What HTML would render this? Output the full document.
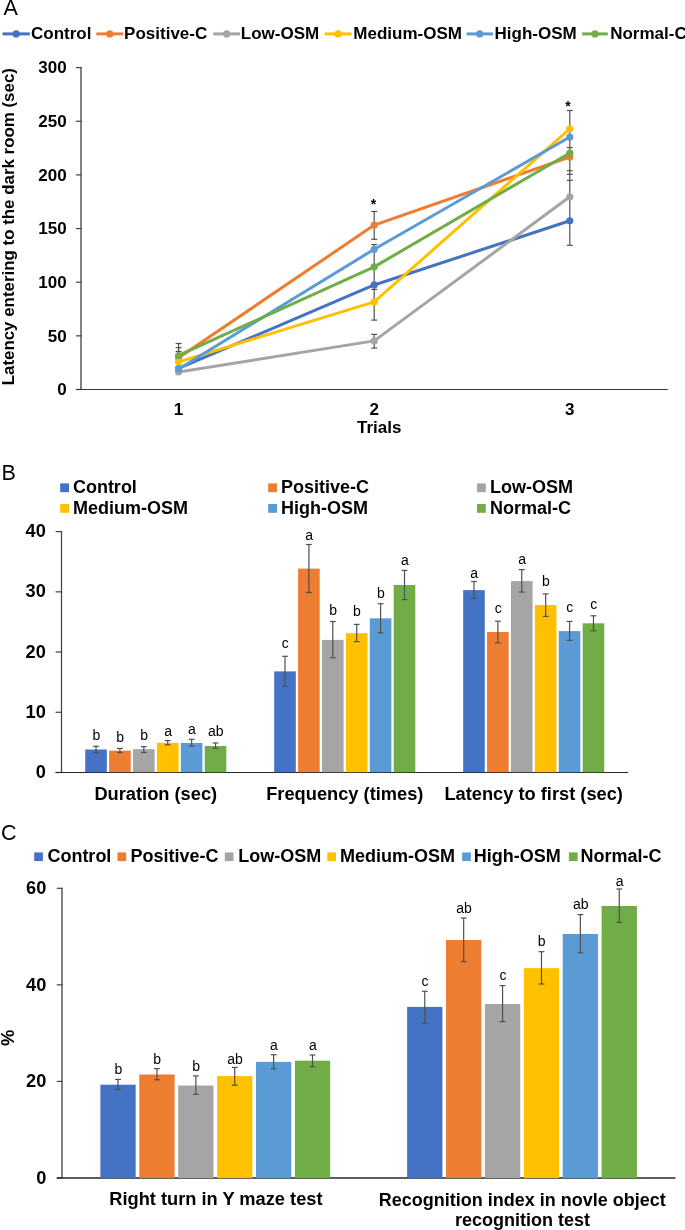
<!DOCTYPE html>
<html><head><meta charset="utf-8"><title>Figure</title>
<style>
html,body{margin:0;padding:0;background:#fff;}
body{width:685px;height:1230px;overflow:hidden;}
svg{display:block;font-family:"Liberation Sans", sans-serif;will-change:transform;}
</style></head><body>
<svg width="685" height="1230" viewBox="0 0 685 1230">
<rect x="0" y="0" width="685" height="1230" fill="#fff"/>
<text x="3.60" y="14.60" font-size="21.5" font-weight="normal" text-anchor="start" >A</text>
<line x1="2.50" y1="33.90" x2="29.80" y2="33.90" stroke="#4472C4" stroke-width="3.0"/>
<circle cx="16.15" cy="33.9" r="3.6" fill="#4472C4"/>
<text x="31.00" y="38.70" font-size="17" font-weight="bold" text-anchor="start" >Control</text>
<line x1="96.30" y1="33.90" x2="123.30" y2="33.90" stroke="#ED7D31" stroke-width="3.0"/>
<circle cx="109.80" cy="33.9" r="3.6" fill="#ED7D31"/>
<text x="124.10" y="38.70" font-size="17" font-weight="bold" text-anchor="start" >Positive-C</text>
<line x1="213.30" y1="33.90" x2="240.00" y2="33.90" stroke="#A5A5A5" stroke-width="3.0"/>
<circle cx="226.65" cy="33.9" r="3.6" fill="#A5A5A5"/>
<text x="240.80" y="38.70" font-size="17" font-weight="bold" text-anchor="start" >Low-OSM</text>
<line x1="324.70" y1="33.90" x2="351.50" y2="33.90" stroke="#FFC000" stroke-width="3.0"/>
<circle cx="338.10" cy="33.9" r="3.6" fill="#FFC000"/>
<text x="353.30" y="38.70" font-size="17" font-weight="bold" text-anchor="start" >Medium-OSM</text>
<line x1="466.60" y1="33.90" x2="492.90" y2="33.90" stroke="#5B9BD5" stroke-width="3.0"/>
<circle cx="479.75" cy="33.9" r="3.6" fill="#5B9BD5"/>
<text x="494.60" y="38.70" font-size="17" font-weight="bold" text-anchor="start" >High-OSM</text>
<line x1="582.20" y1="33.90" x2="607.80" y2="33.90" stroke="#70AD47" stroke-width="3.0"/>
<circle cx="595.00" cy="33.9" r="3.6" fill="#70AD47"/>
<text x="610.20" y="38.70" font-size="17" font-weight="bold" text-anchor="start" >Normal-C</text>
<line x1="81.00" y1="67.00" x2="81.00" y2="389.50" stroke="#404040" stroke-width="1.3"/>
<line x1="76.00" y1="389.50" x2="81.60" y2="389.50" stroke="#404040" stroke-width="1.2"/>
<text x="66.70" y="395.30" font-size="17" font-weight="bold" text-anchor="end" >0</text>
<line x1="76.00" y1="335.85" x2="81.60" y2="335.85" stroke="#404040" stroke-width="1.2"/>
<text x="66.70" y="341.63" font-size="17" font-weight="bold" text-anchor="end" >50</text>
<line x1="76.00" y1="282.20" x2="81.60" y2="282.20" stroke="#404040" stroke-width="1.2"/>
<text x="66.70" y="287.97" font-size="17" font-weight="bold" text-anchor="end" >100</text>
<line x1="76.00" y1="228.55" x2="81.60" y2="228.55" stroke="#404040" stroke-width="1.2"/>
<text x="66.70" y="234.30" font-size="17" font-weight="bold" text-anchor="end" >150</text>
<line x1="76.00" y1="174.90" x2="81.60" y2="174.90" stroke="#404040" stroke-width="1.2"/>
<text x="66.70" y="180.63" font-size="17" font-weight="bold" text-anchor="end" >200</text>
<line x1="76.00" y1="121.25" x2="81.60" y2="121.25" stroke="#404040" stroke-width="1.2"/>
<text x="66.70" y="126.97" font-size="17" font-weight="bold" text-anchor="end" >250</text>
<line x1="76.00" y1="67.60" x2="81.60" y2="67.60" stroke="#404040" stroke-width="1.2"/>
<text x="66.70" y="73.30" font-size="17" font-weight="bold" text-anchor="end" >300</text>
<line x1="76.00" y1="389.50" x2="667.70" y2="389.50" stroke="#333333" stroke-width="1.2"/>
<text x="178.60" y="414.50" font-size="17" font-weight="bold" text-anchor="middle" >1</text>
<text x="374.20" y="414.50" font-size="17" font-weight="bold" text-anchor="middle" >2</text>
<text x="569.80" y="414.50" font-size="17" font-weight="bold" text-anchor="middle" >3</text>
<text x="379.20" y="432.60" font-size="17" font-weight="bold" text-anchor="middle" >Trials</text>
<text x="0.00" y="0.00" font-size="16.9" font-weight="bold" text-anchor="middle" transform="translate(14.1,226.7) rotate(-90)">Latency entering to the dark room (sec)</text>
<line x1="178.60" y1="343.50" x2="178.60" y2="356.00" stroke="#505050" stroke-width="1.2"/>
<line x1="175.65" y1="343.50" x2="181.55" y2="343.50" stroke="#505050" stroke-width="1.2"/>
<line x1="175.65" y1="347.70" x2="181.55" y2="347.70" stroke="#505050" stroke-width="1.2"/>
<line x1="175.65" y1="351.40" x2="181.55" y2="351.40" stroke="#505050" stroke-width="1.2"/>
<line x1="374.20" y1="211.50" x2="374.20" y2="239.30" stroke="#505050" stroke-width="1.2"/>
<line x1="374.20" y1="244.50" x2="374.20" y2="320.10" stroke="#505050" stroke-width="1.2"/>
<line x1="374.20" y1="334.40" x2="374.20" y2="348.10" stroke="#505050" stroke-width="1.2"/>
<line x1="371.25" y1="211.50" x2="377.15" y2="211.50" stroke="#505050" stroke-width="1.2"/>
<line x1="371.25" y1="239.30" x2="377.15" y2="239.30" stroke="#505050" stroke-width="1.2"/>
<line x1="371.25" y1="244.50" x2="377.15" y2="244.50" stroke="#505050" stroke-width="1.2"/>
<line x1="371.25" y1="289.40" x2="377.15" y2="289.40" stroke="#505050" stroke-width="1.2"/>
<line x1="371.25" y1="320.10" x2="377.15" y2="320.10" stroke="#505050" stroke-width="1.2"/>
<line x1="371.25" y1="334.40" x2="377.15" y2="334.40" stroke="#505050" stroke-width="1.2"/>
<line x1="371.25" y1="348.10" x2="377.15" y2="348.10" stroke="#505050" stroke-width="1.2"/>
<line x1="569.80" y1="110.50" x2="569.80" y2="245.30" stroke="#505050" stroke-width="1.2"/>
<line x1="566.85" y1="110.50" x2="572.75" y2="110.50" stroke="#505050" stroke-width="1.2"/>
<line x1="566.85" y1="147.60" x2="572.75" y2="147.60" stroke="#505050" stroke-width="1.2"/>
<line x1="566.85" y1="170.70" x2="572.75" y2="170.70" stroke="#505050" stroke-width="1.2"/>
<line x1="566.85" y1="174.30" x2="572.75" y2="174.30" stroke="#505050" stroke-width="1.2"/>
<line x1="566.85" y1="180.30" x2="572.75" y2="180.30" stroke="#505050" stroke-width="1.2"/>
<line x1="566.85" y1="245.30" x2="572.75" y2="245.30" stroke="#505050" stroke-width="1.2"/>
<polyline points="178.60,368.48 374.20,284.97 569.80,220.79" fill="none" stroke="#4472C4" stroke-width="3.0" stroke-linejoin="round"/>
<circle cx="178.60" cy="368.48" r="3.6" fill="#4472C4"/>
<circle cx="374.20" cy="284.97" r="3.6" fill="#4472C4"/>
<circle cx="569.80" cy="220.79" r="3.6" fill="#4472C4"/>
<polyline points="178.60,357.85 374.20,225.08 569.80,157.03" fill="none" stroke="#ED7D31" stroke-width="3.0" stroke-linejoin="round"/>
<circle cx="178.60" cy="357.85" r="3.6" fill="#ED7D31"/>
<circle cx="374.20" cy="225.08" r="3.6" fill="#ED7D31"/>
<circle cx="569.80" cy="157.03" r="3.6" fill="#ED7D31"/>
<polyline points="178.60,372.02 374.20,340.89 569.80,196.74" fill="none" stroke="#A5A5A5" stroke-width="3.0" stroke-linejoin="round"/>
<circle cx="178.60" cy="372.02" r="3.6" fill="#A5A5A5"/>
<circle cx="374.20" cy="340.89" r="3.6" fill="#A5A5A5"/>
<circle cx="569.80" cy="196.74" r="3.6" fill="#A5A5A5"/>
<polyline points="178.60,361.93 374.20,301.93 569.80,128.80" fill="none" stroke="#FFC000" stroke-width="3.0" stroke-linejoin="round"/>
<circle cx="178.60" cy="361.93" r="3.6" fill="#FFC000"/>
<circle cx="374.20" cy="301.93" r="3.6" fill="#FFC000"/>
<circle cx="569.80" cy="128.80" r="3.6" fill="#FFC000"/>
<polyline points="178.60,369.01 374.20,249.23 569.80,137.07" fill="none" stroke="#5B9BD5" stroke-width="3.0" stroke-linejoin="round"/>
<circle cx="178.60" cy="369.01" r="3.6" fill="#5B9BD5"/>
<circle cx="374.20" cy="249.23" r="3.6" fill="#5B9BD5"/>
<circle cx="569.80" cy="137.07" r="3.6" fill="#5B9BD5"/>
<polyline points="178.60,355.49 374.20,266.83 569.80,153.06" fill="none" stroke="#70AD47" stroke-width="3.0" stroke-linejoin="round"/>
<circle cx="178.60" cy="355.49" r="3.6" fill="#70AD47"/>
<circle cx="374.20" cy="266.83" r="3.6" fill="#70AD47"/>
<circle cx="569.80" cy="153.06" r="3.6" fill="#70AD47"/>
<text x="373.50" y="209.30" font-size="14" font-weight="bold" text-anchor="middle" >*</text>
<text x="568.10" y="111.20" font-size="14" font-weight="bold" text-anchor="middle" >*</text>
<text x="1.60" y="480.20" font-size="21.5" font-weight="normal" text-anchor="start" >B</text>
<rect x="60.20" y="483.40" width="8.80" height="8.80" fill="#4472C4"/>
<text x="72.90" y="493.10" font-size="18" font-weight="bold" text-anchor="start" >Control</text>
<rect x="268.20" y="483.40" width="8.80" height="8.80" fill="#ED7D31"/>
<text x="281.10" y="493.10" font-size="18" font-weight="bold" text-anchor="start" >Positive-C</text>
<rect x="477.00" y="483.40" width="8.80" height="8.80" fill="#A5A5A5"/>
<text x="489.90" y="493.10" font-size="18" font-weight="bold" text-anchor="start" >Low-OSM</text>
<rect x="60.20" y="504.00" width="8.80" height="8.80" fill="#FFC000"/>
<text x="72.90" y="513.70" font-size="18" font-weight="bold" text-anchor="start" >Medium-OSM</text>
<rect x="268.20" y="504.00" width="8.80" height="8.80" fill="#5B9BD5"/>
<text x="281.10" y="513.70" font-size="18" font-weight="bold" text-anchor="start" >High-OSM</text>
<rect x="477.00" y="504.00" width="8.80" height="8.80" fill="#70AD47"/>
<text x="489.90" y="513.70" font-size="18" font-weight="bold" text-anchor="start" >Normal-C</text>
<line x1="61.50" y1="531.10" x2="61.50" y2="772.50" stroke="#404040" stroke-width="1.2"/>
<line x1="55.60" y1="772.50" x2="62.10" y2="772.50" stroke="#404040" stroke-width="1.2"/>
<text x="45.80" y="778.00" font-size="18.2" font-weight="bold" text-anchor="end" >0</text>
<line x1="55.60" y1="712.27" x2="62.10" y2="712.27" stroke="#404040" stroke-width="1.2"/>
<text x="45.80" y="717.80" font-size="18.2" font-weight="bold" text-anchor="end" >10</text>
<line x1="55.60" y1="652.05" x2="62.10" y2="652.05" stroke="#404040" stroke-width="1.2"/>
<text x="45.80" y="657.60" font-size="18.2" font-weight="bold" text-anchor="end" >20</text>
<line x1="55.60" y1="591.83" x2="62.10" y2="591.83" stroke="#404040" stroke-width="1.2"/>
<text x="45.80" y="597.40" font-size="18.2" font-weight="bold" text-anchor="end" >30</text>
<line x1="55.60" y1="531.60" x2="62.10" y2="531.60" stroke="#404040" stroke-width="1.2"/>
<text x="45.80" y="537.20" font-size="18.2" font-weight="bold" text-anchor="end" >40</text>
<line x1="55.60" y1="772.50" x2="628.20" y2="772.50" stroke="#262626" stroke-width="1.2"/>
<rect x="85.23" y="749.50" width="21.60" height="22.70" fill="#4472C4"/>
<rect x="109.13" y="750.60" width="21.60" height="21.60" fill="#ED7D31"/>
<rect x="133.03" y="749.20" width="21.60" height="23.00" fill="#A5A5A5"/>
<rect x="156.93" y="742.80" width="21.60" height="29.40" fill="#FFC000"/>
<rect x="180.83" y="743.00" width="21.60" height="29.20" fill="#5B9BD5"/>
<rect x="204.73" y="746.00" width="21.60" height="26.20" fill="#70AD47"/>
<line x1="96.03" y1="746.30" x2="96.03" y2="752.70" stroke="#505050" stroke-width="1.2"/>
<line x1="93.13" y1="746.30" x2="98.93" y2="746.30" stroke="#505050" stroke-width="1.2"/>
<line x1="93.13" y1="752.70" x2="98.93" y2="752.70" stroke="#505050" stroke-width="1.2"/>
<text x="96.33" y="739.80" font-size="14" font-weight="normal" text-anchor="middle" >b</text>
<line x1="119.93" y1="748.40" x2="119.93" y2="752.50" stroke="#505050" stroke-width="1.2"/>
<line x1="117.03" y1="748.40" x2="122.83" y2="748.40" stroke="#505050" stroke-width="1.2"/>
<line x1="117.03" y1="752.50" x2="122.83" y2="752.50" stroke="#505050" stroke-width="1.2"/>
<text x="120.23" y="741.70" font-size="14" font-weight="normal" text-anchor="middle" >b</text>
<line x1="143.83" y1="746.60" x2="143.83" y2="752.50" stroke="#505050" stroke-width="1.2"/>
<line x1="140.93" y1="746.60" x2="146.73" y2="746.60" stroke="#505050" stroke-width="1.2"/>
<line x1="140.93" y1="752.50" x2="146.73" y2="752.50" stroke="#505050" stroke-width="1.2"/>
<text x="144.13" y="739.60" font-size="14" font-weight="normal" text-anchor="middle" >b</text>
<line x1="167.73" y1="740.50" x2="167.73" y2="744.80" stroke="#505050" stroke-width="1.2"/>
<line x1="164.83" y1="740.50" x2="170.63" y2="740.50" stroke="#505050" stroke-width="1.2"/>
<line x1="164.83" y1="744.80" x2="170.63" y2="744.80" stroke="#505050" stroke-width="1.2"/>
<text x="168.03" y="735.70" font-size="14" font-weight="normal" text-anchor="middle" >a</text>
<line x1="191.63" y1="739.30" x2="191.63" y2="746.00" stroke="#505050" stroke-width="1.2"/>
<line x1="188.73" y1="739.30" x2="194.53" y2="739.30" stroke="#505050" stroke-width="1.2"/>
<line x1="188.73" y1="746.00" x2="194.53" y2="746.00" stroke="#505050" stroke-width="1.2"/>
<text x="191.93" y="733.60" font-size="14" font-weight="normal" text-anchor="middle" >a</text>
<line x1="215.53" y1="743.00" x2="215.53" y2="748.30" stroke="#505050" stroke-width="1.2"/>
<line x1="212.63" y1="743.00" x2="218.43" y2="743.00" stroke="#505050" stroke-width="1.2"/>
<line x1="212.63" y1="748.30" x2="218.43" y2="748.30" stroke="#505050" stroke-width="1.2"/>
<text x="215.83" y="735.70" font-size="14" font-weight="normal" text-anchor="middle" >ab</text>
<rect x="274.20" y="671.40" width="21.60" height="100.80" fill="#4472C4"/>
<rect x="298.10" y="568.60" width="21.60" height="203.60" fill="#ED7D31"/>
<rect x="322.00" y="639.90" width="21.60" height="132.30" fill="#A5A5A5"/>
<rect x="345.90" y="633.20" width="21.60" height="139.00" fill="#FFC000"/>
<rect x="369.80" y="618.30" width="21.60" height="153.90" fill="#5B9BD5"/>
<rect x="393.70" y="585.00" width="21.60" height="187.20" fill="#70AD47"/>
<line x1="285.00" y1="656.30" x2="285.00" y2="686.30" stroke="#505050" stroke-width="1.2"/>
<line x1="282.10" y1="656.30" x2="287.90" y2="656.30" stroke="#505050" stroke-width="1.2"/>
<line x1="282.10" y1="686.30" x2="287.90" y2="686.30" stroke="#505050" stroke-width="1.2"/>
<text x="285.30" y="648.10" font-size="14" font-weight="normal" text-anchor="middle" >c</text>
<line x1="308.90" y1="544.50" x2="308.90" y2="592.50" stroke="#505050" stroke-width="1.2"/>
<line x1="306.00" y1="544.50" x2="311.80" y2="544.50" stroke="#505050" stroke-width="1.2"/>
<line x1="306.00" y1="592.50" x2="311.80" y2="592.50" stroke="#505050" stroke-width="1.2"/>
<text x="309.20" y="540.20" font-size="14" font-weight="normal" text-anchor="middle" >a</text>
<line x1="332.80" y1="621.50" x2="332.80" y2="657.70" stroke="#505050" stroke-width="1.2"/>
<line x1="329.90" y1="621.50" x2="335.70" y2="621.50" stroke="#505050" stroke-width="1.2"/>
<line x1="329.90" y1="657.70" x2="335.70" y2="657.70" stroke="#505050" stroke-width="1.2"/>
<text x="333.10" y="614.50" font-size="14" font-weight="normal" text-anchor="middle" >b</text>
<line x1="356.70" y1="624.40" x2="356.70" y2="641.60" stroke="#505050" stroke-width="1.2"/>
<line x1="353.80" y1="624.40" x2="359.60" y2="624.40" stroke="#505050" stroke-width="1.2"/>
<line x1="353.80" y1="641.60" x2="359.60" y2="641.60" stroke="#505050" stroke-width="1.2"/>
<text x="357.00" y="615.70" font-size="14" font-weight="normal" text-anchor="middle" >b</text>
<line x1="380.60" y1="603.70" x2="380.60" y2="632.90" stroke="#505050" stroke-width="1.2"/>
<line x1="377.70" y1="603.70" x2="383.50" y2="603.70" stroke="#505050" stroke-width="1.2"/>
<line x1="377.70" y1="632.90" x2="383.50" y2="632.90" stroke="#505050" stroke-width="1.2"/>
<text x="380.90" y="598.20" font-size="14" font-weight="normal" text-anchor="middle" >b</text>
<line x1="404.50" y1="570.40" x2="404.50" y2="599.60" stroke="#505050" stroke-width="1.2"/>
<line x1="401.60" y1="570.40" x2="407.40" y2="570.40" stroke="#505050" stroke-width="1.2"/>
<line x1="401.60" y1="599.60" x2="407.40" y2="599.60" stroke="#505050" stroke-width="1.2"/>
<text x="404.80" y="564.70" font-size="14" font-weight="normal" text-anchor="middle" >a</text>
<rect x="463.17" y="590.10" width="21.60" height="182.10" fill="#4472C4"/>
<rect x="487.07" y="632.00" width="21.60" height="140.20" fill="#ED7D31"/>
<rect x="510.97" y="581.10" width="21.60" height="191.10" fill="#A5A5A5"/>
<rect x="534.87" y="605.00" width="21.60" height="167.20" fill="#FFC000"/>
<rect x="558.77" y="631.10" width="21.60" height="141.10" fill="#5B9BD5"/>
<rect x="582.67" y="623.30" width="21.60" height="148.90" fill="#70AD47"/>
<line x1="473.97" y1="581.50" x2="473.97" y2="598.30" stroke="#505050" stroke-width="1.2"/>
<line x1="471.07" y1="581.50" x2="476.87" y2="581.50" stroke="#505050" stroke-width="1.2"/>
<line x1="471.07" y1="598.30" x2="476.87" y2="598.30" stroke="#505050" stroke-width="1.2"/>
<text x="474.27" y="577.50" font-size="14" font-weight="normal" text-anchor="middle" >a</text>
<line x1="497.87" y1="621.20" x2="497.87" y2="642.90" stroke="#505050" stroke-width="1.2"/>
<line x1="494.97" y1="621.20" x2="500.77" y2="621.20" stroke="#505050" stroke-width="1.2"/>
<line x1="494.97" y1="642.90" x2="500.77" y2="642.90" stroke="#505050" stroke-width="1.2"/>
<text x="498.17" y="613.40" font-size="14" font-weight="normal" text-anchor="middle" >c</text>
<line x1="521.77" y1="569.60" x2="521.77" y2="592.00" stroke="#505050" stroke-width="1.2"/>
<line x1="518.87" y1="569.60" x2="524.67" y2="569.60" stroke="#505050" stroke-width="1.2"/>
<line x1="518.87" y1="592.00" x2="524.67" y2="592.00" stroke="#505050" stroke-width="1.2"/>
<text x="522.07" y="563.70" font-size="14" font-weight="normal" text-anchor="middle" >a</text>
<line x1="545.67" y1="593.90" x2="545.67" y2="616.40" stroke="#505050" stroke-width="1.2"/>
<line x1="542.77" y1="593.90" x2="548.57" y2="593.90" stroke="#505050" stroke-width="1.2"/>
<line x1="542.77" y1="616.40" x2="548.57" y2="616.40" stroke="#505050" stroke-width="1.2"/>
<text x="545.97" y="585.50" font-size="14" font-weight="normal" text-anchor="middle" >b</text>
<line x1="569.57" y1="621.40" x2="569.57" y2="640.40" stroke="#505050" stroke-width="1.2"/>
<line x1="566.67" y1="621.40" x2="572.47" y2="621.40" stroke="#505050" stroke-width="1.2"/>
<line x1="566.67" y1="640.40" x2="572.47" y2="640.40" stroke="#505050" stroke-width="1.2"/>
<text x="569.87" y="612.30" font-size="14" font-weight="normal" text-anchor="middle" >c</text>
<line x1="593.47" y1="615.80" x2="593.47" y2="630.80" stroke="#505050" stroke-width="1.2"/>
<line x1="590.57" y1="615.80" x2="596.37" y2="615.80" stroke="#505050" stroke-width="1.2"/>
<line x1="590.57" y1="630.80" x2="596.37" y2="630.80" stroke="#505050" stroke-width="1.2"/>
<text x="593.77" y="608.50" font-size="14" font-weight="normal" text-anchor="middle" >c</text>
<text x="155.80" y="799.50" font-size="18.25" font-weight="bold" text-anchor="middle" >Duration (sec)</text>
<text x="344.80" y="799.50" font-size="18.25" font-weight="bold" text-anchor="middle" >Frequency (times)</text>
<text x="533.70" y="799.50" font-size="18.25" font-weight="bold" text-anchor="middle" >Latency to first (sec)</text>
<text x="0.90" y="839.70" font-size="21.5" font-weight="normal" text-anchor="start" >C</text>
<rect x="34.20" y="852.40" width="8.70" height="8.70" fill="#4472C4"/>
<text x="47.40" y="861.60" font-size="18" font-weight="bold" text-anchor="start" >Control</text>
<rect x="117.50" y="852.40" width="8.70" height="8.70" fill="#ED7D31"/>
<text x="130.50" y="861.60" font-size="18" font-weight="bold" text-anchor="start" >Positive-C</text>
<rect x="224.80" y="852.40" width="8.70" height="8.70" fill="#A5A5A5"/>
<text x="238.30" y="861.60" font-size="18" font-weight="bold" text-anchor="start" >Low-OSM</text>
<rect x="327.30" y="852.40" width="8.70" height="8.70" fill="#FFC000"/>
<text x="340.00" y="861.60" font-size="18" font-weight="bold" text-anchor="start" >Medium-OSM</text>
<rect x="462.20" y="852.40" width="8.70" height="8.70" fill="#5B9BD5"/>
<text x="473.70" y="861.60" font-size="18" font-weight="bold" text-anchor="start" >High-OSM</text>
<rect x="568.90" y="852.40" width="8.70" height="8.70" fill="#70AD47"/>
<text x="580.40" y="861.60" font-size="18" font-weight="bold" text-anchor="start" >Normal-C</text>
<line x1="62.00" y1="887.70" x2="62.00" y2="1178.00" stroke="#404040" stroke-width="1.3"/>
<line x1="56.80" y1="1178.00" x2="62.60" y2="1178.00" stroke="#404040" stroke-width="1.2"/>
<text x="46.30" y="1183.80" font-size="18.2" font-weight="bold" text-anchor="end" >0</text>
<line x1="56.80" y1="1081.43" x2="62.60" y2="1081.43" stroke="#404040" stroke-width="1.2"/>
<text x="46.30" y="1087.17" font-size="18.2" font-weight="bold" text-anchor="end" >20</text>
<line x1="56.80" y1="984.87" x2="62.60" y2="984.87" stroke="#404040" stroke-width="1.2"/>
<text x="46.30" y="990.53" font-size="18.2" font-weight="bold" text-anchor="end" >40</text>
<line x1="56.80" y1="888.30" x2="62.60" y2="888.30" stroke="#404040" stroke-width="1.2"/>
<text x="46.30" y="893.90" font-size="18.2" font-weight="bold" text-anchor="end" >60</text>
<line x1="56.80" y1="1178.00" x2="675.40" y2="1178.00" stroke="#262626" stroke-width="1.6"/>
<rect x="100.38" y="1084.70" width="35.30" height="93.40" fill="#4472C4"/>
<rect x="139.28" y="1074.50" width="35.30" height="103.60" fill="#ED7D31"/>
<rect x="178.18" y="1085.50" width="35.30" height="92.60" fill="#A5A5A5"/>
<rect x="217.07" y="1076.10" width="35.30" height="102.00" fill="#FFC000"/>
<rect x="255.97" y="1061.90" width="35.30" height="116.20" fill="#5B9BD5"/>
<rect x="294.88" y="1060.70" width="35.30" height="117.40" fill="#70AD47"/>
<line x1="118.03" y1="1079.40" x2="118.03" y2="1089.30" stroke="#505050" stroke-width="1.2"/>
<line x1="115.12" y1="1079.40" x2="120.93" y2="1079.40" stroke="#505050" stroke-width="1.2"/>
<line x1="115.12" y1="1089.30" x2="120.93" y2="1089.30" stroke="#505050" stroke-width="1.2"/>
<text x="118.33" y="1073.90" font-size="14" font-weight="normal" text-anchor="middle" >b</text>
<line x1="156.93" y1="1068.60" x2="156.93" y2="1079.80" stroke="#505050" stroke-width="1.2"/>
<line x1="154.03" y1="1068.60" x2="159.83" y2="1068.60" stroke="#505050" stroke-width="1.2"/>
<line x1="154.03" y1="1079.80" x2="159.83" y2="1079.80" stroke="#505050" stroke-width="1.2"/>
<text x="157.23" y="1063.70" font-size="14" font-weight="normal" text-anchor="middle" >b</text>
<line x1="195.83" y1="1075.90" x2="195.83" y2="1094.30" stroke="#505050" stroke-width="1.2"/>
<line x1="192.93" y1="1075.90" x2="198.73" y2="1075.90" stroke="#505050" stroke-width="1.2"/>
<line x1="192.93" y1="1094.30" x2="198.73" y2="1094.30" stroke="#505050" stroke-width="1.2"/>
<text x="196.13" y="1070.70" font-size="14" font-weight="normal" text-anchor="middle" >b</text>
<line x1="234.72" y1="1067.40" x2="234.72" y2="1085.20" stroke="#505050" stroke-width="1.2"/>
<line x1="231.82" y1="1067.40" x2="237.62" y2="1067.40" stroke="#505050" stroke-width="1.2"/>
<line x1="231.82" y1="1085.20" x2="237.62" y2="1085.20" stroke="#505050" stroke-width="1.2"/>
<text x="235.03" y="1063.90" font-size="14" font-weight="normal" text-anchor="middle" >ab</text>
<line x1="273.62" y1="1054.70" x2="273.62" y2="1068.80" stroke="#505050" stroke-width="1.2"/>
<line x1="270.73" y1="1054.70" x2="276.52" y2="1054.70" stroke="#505050" stroke-width="1.2"/>
<line x1="270.73" y1="1068.80" x2="276.52" y2="1068.80" stroke="#505050" stroke-width="1.2"/>
<text x="273.93" y="1050.20" font-size="14" font-weight="normal" text-anchor="middle" >a</text>
<line x1="312.52" y1="1055.00" x2="312.52" y2="1066.60" stroke="#505050" stroke-width="1.2"/>
<line x1="309.62" y1="1055.00" x2="315.42" y2="1055.00" stroke="#505050" stroke-width="1.2"/>
<line x1="309.62" y1="1066.60" x2="315.42" y2="1066.60" stroke="#505050" stroke-width="1.2"/>
<text x="312.82" y="1050.20" font-size="14" font-weight="normal" text-anchor="middle" >a</text>
<rect x="407.12" y="1006.90" width="35.30" height="171.20" fill="#4472C4"/>
<rect x="446.02" y="940.00" width="35.30" height="238.10" fill="#ED7D31"/>
<rect x="484.93" y="1004.00" width="35.30" height="174.10" fill="#A5A5A5"/>
<rect x="523.83" y="968.20" width="35.30" height="209.90" fill="#FFC000"/>
<rect x="562.73" y="934.00" width="35.30" height="244.10" fill="#5B9BD5"/>
<rect x="601.62" y="906.00" width="35.30" height="272.10" fill="#70AD47"/>
<line x1="424.77" y1="991.30" x2="424.77" y2="1023.20" stroke="#505050" stroke-width="1.2"/>
<line x1="421.88" y1="991.30" x2="427.67" y2="991.30" stroke="#505050" stroke-width="1.2"/>
<line x1="421.88" y1="1023.20" x2="427.67" y2="1023.20" stroke="#505050" stroke-width="1.2"/>
<text x="425.07" y="986.40" font-size="14" font-weight="normal" text-anchor="middle" >c</text>
<line x1="463.67" y1="918.00" x2="463.67" y2="961.70" stroke="#505050" stroke-width="1.2"/>
<line x1="460.77" y1="918.00" x2="466.57" y2="918.00" stroke="#505050" stroke-width="1.2"/>
<line x1="460.77" y1="961.70" x2="466.57" y2="961.70" stroke="#505050" stroke-width="1.2"/>
<text x="463.97" y="913.30" font-size="14" font-weight="normal" text-anchor="middle" >ab</text>
<line x1="502.57" y1="985.60" x2="502.57" y2="1021.60" stroke="#505050" stroke-width="1.2"/>
<line x1="499.68" y1="985.60" x2="505.47" y2="985.60" stroke="#505050" stroke-width="1.2"/>
<line x1="499.68" y1="1021.60" x2="505.47" y2="1021.60" stroke="#505050" stroke-width="1.2"/>
<text x="502.88" y="980.10" font-size="14" font-weight="normal" text-anchor="middle" >c</text>
<line x1="541.48" y1="951.70" x2="541.48" y2="984.00" stroke="#505050" stroke-width="1.2"/>
<line x1="538.58" y1="951.70" x2="544.38" y2="951.70" stroke="#505050" stroke-width="1.2"/>
<line x1="538.58" y1="984.00" x2="544.38" y2="984.00" stroke="#505050" stroke-width="1.2"/>
<text x="541.77" y="945.70" font-size="14" font-weight="normal" text-anchor="middle" >b</text>
<line x1="580.38" y1="914.60" x2="580.38" y2="952.80" stroke="#505050" stroke-width="1.2"/>
<line x1="577.48" y1="914.60" x2="583.27" y2="914.60" stroke="#505050" stroke-width="1.2"/>
<line x1="577.48" y1="952.80" x2="583.27" y2="952.80" stroke="#505050" stroke-width="1.2"/>
<text x="580.67" y="908.90" font-size="14" font-weight="normal" text-anchor="middle" >ab</text>
<line x1="619.27" y1="889.00" x2="619.27" y2="922.40" stroke="#505050" stroke-width="1.2"/>
<line x1="616.38" y1="889.00" x2="622.17" y2="889.00" stroke="#505050" stroke-width="1.2"/>
<line x1="616.38" y1="922.40" x2="622.17" y2="922.40" stroke="#505050" stroke-width="1.2"/>
<text x="619.57" y="886.00" font-size="14" font-weight="normal" text-anchor="middle" >a</text>
<text x="0.00" y="0.00" font-size="18.4" font-weight="bold" text-anchor="middle" transform="translate(13.8,1037.9) rotate(-90)">%</text>
<text x="215.90" y="1204.60" font-size="18.25" font-weight="bold" text-anchor="middle" >Right turn in Y maze test</text>
<text x="522.20" y="1205.50" font-size="18" font-weight="bold" text-anchor="middle" >Recognition index in novle object</text>
<text x="522.50" y="1225.60" font-size="18" font-weight="bold" text-anchor="middle" >recognition test</text>
</svg>
</body></html>
